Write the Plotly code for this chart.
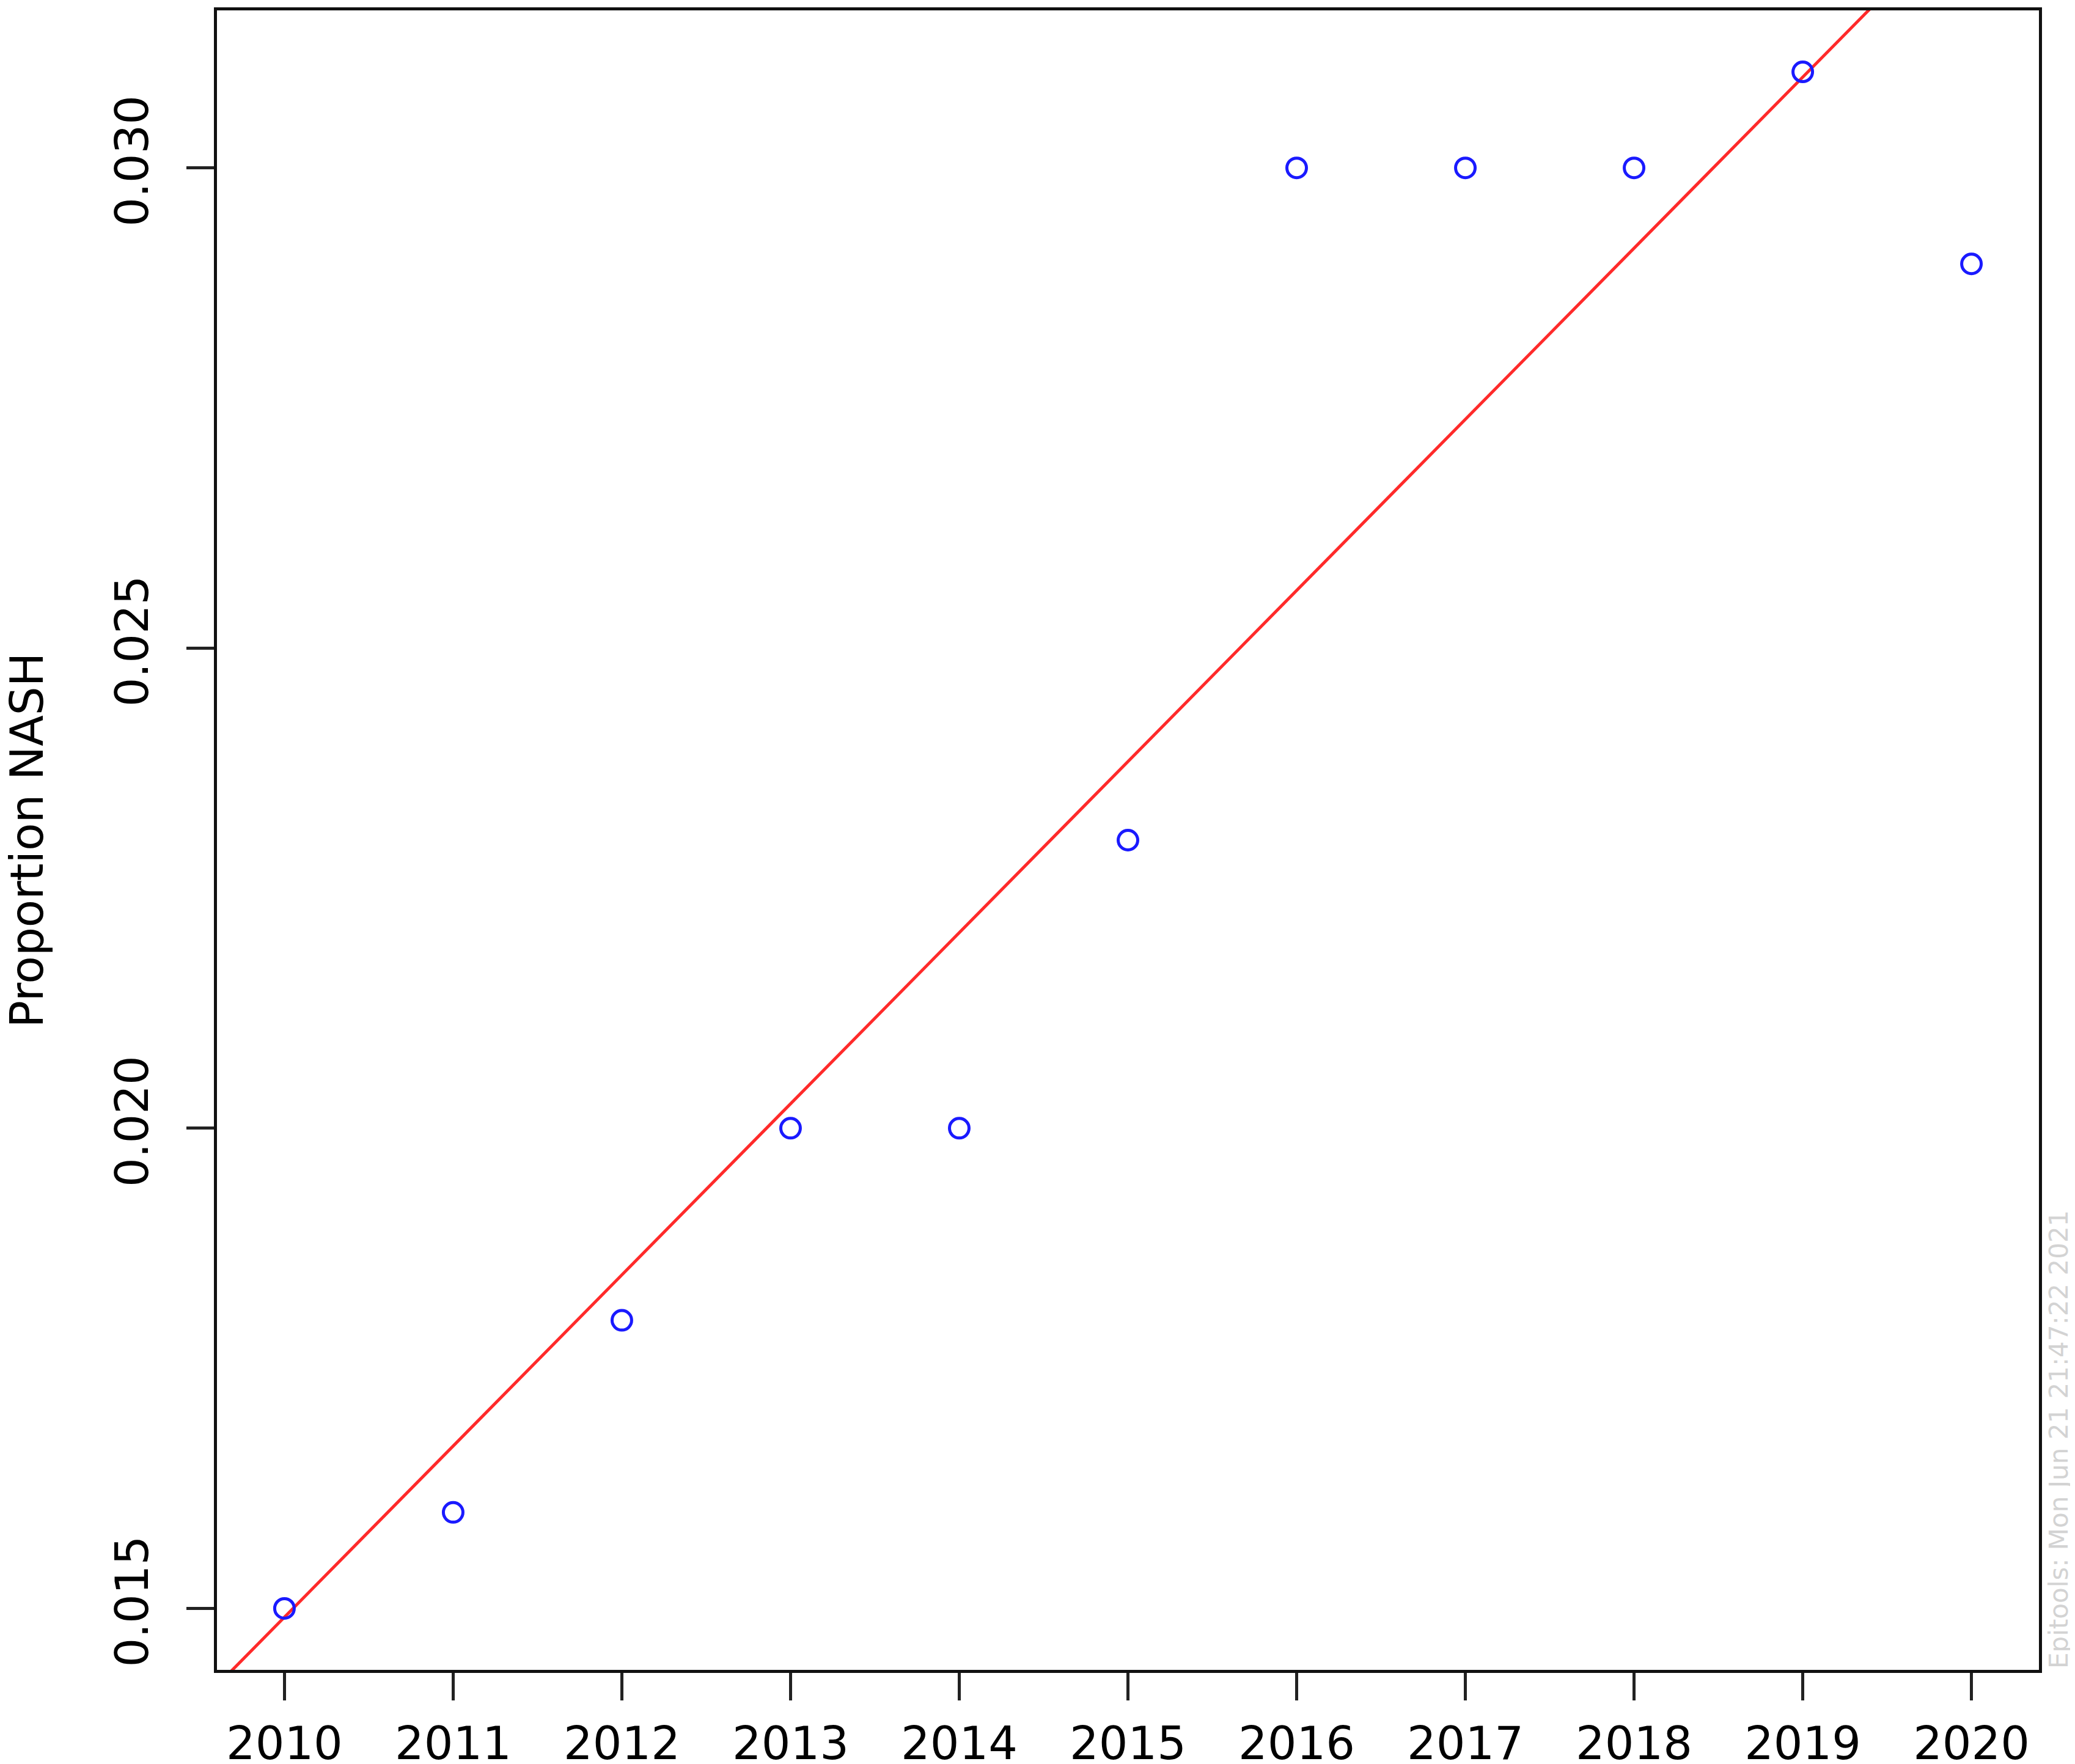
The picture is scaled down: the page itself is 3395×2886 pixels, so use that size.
import numpy as np
import plotly.graph_objects as go

years = [2010, 2011, 2012, 2013, 2014, 2015, 2016, 2017, 2018, 2019, 2020]
proportion_nash = [0.015, 0.016, 0.018, 0.020, 0.020, 0.023, 0.030, 0.030, 0.030, 0.031, 0.029]
y_ticks = [0.015, 0.020, 0.025, 0.030]
y_tick_labels = ["0.015", "0.020", "0.025", "0.030"]
y_title = "Proportion NASH"
watermark = "Epitools: Mon Jun 21 21:47:22 2021"

W, H = 3395, 2886
FONT = "DejaVu Sans"

# R-style axis ranges (4% padding)
def r_range(v):
    lo, hi = min(v), max(v)
    pad = 0.04 * (hi - lo)
    return [lo - pad, hi + pad]

xr = r_range(years)
yr = r_range(proportion_nash)

# least-squares fit line (abline of lm)
slope, intercept = np.polyfit(years, proportion_nash, 1)
lx = [xr[0] - 1, xr[1] + 1]
ly = [intercept + slope * v for v in lx]

fig = go.Figure()
fig.add_trace(go.Scatter(x=lx, y=ly, mode="lines",
                         line=dict(color="#FF2a2a", width=5), showlegend=False))
fig.add_trace(go.Scatter(x=years, y=proportion_nash, mode="markers",
                         marker=dict(symbol="circle-open", size=32, color="#1a1aFF",
                                     line=dict(width=5, color="#1a1aFF")),
                         showlegend=False, cliponaxis=False))

fig.update_layout(
    width=W, height=H,
    margin=dict(l=347, r=67, t=9, b=162, pad=0, autoexpand=False),
    paper_bgcolor="white", plot_bgcolor="white",
    font=dict(family=FONT, size=75, color="black"),
    xaxis=dict(range=xr, tickvals=years, ticktext=[str(y) for y in years],
               showgrid=False, zeroline=False, showline=True, mirror=True,
               linecolor="#111111", linewidth=5, ticks="outside", ticklen=45,
               tickwidth=5, tickcolor="#222222", ticklabelstandoff=6, automargin=False,
               tickfont=dict(family=FONT, size=75, color="black")),
    yaxis=dict(range=yr, tickvals=y_ticks, ticktext=y_tick_labels,
               showgrid=False, zeroline=False, showline=True, mirror=True,
               linecolor="#111111", linewidth=5, ticks="outside", ticklen=45,
               tickwidth=5, tickcolor="#222222", tickangle=-90, ticklabelstandoff=33,
               automargin=False,
               tickfont=dict(family=FONT, size=75, color="black")),
    annotations=[
        dict(text=y_title, xref="paper", yref="paper", x=0, y=0.5,
             xanchor="center", yanchor="middle", xshift=-312, textangle=-90,
             showarrow=False, font=dict(family=FONT, size=74, color="black")),
        dict(text=watermark, xref="paper", yref="paper", x=1, y=0,
             xanchor="center", yanchor="bottom", xshift=32, yshift=0, textangle=-90,
             showarrow=False, font=dict(family=FONT, size=42, color="#D3D3D3")),
    ],
)

fig.write_html("out.html")
